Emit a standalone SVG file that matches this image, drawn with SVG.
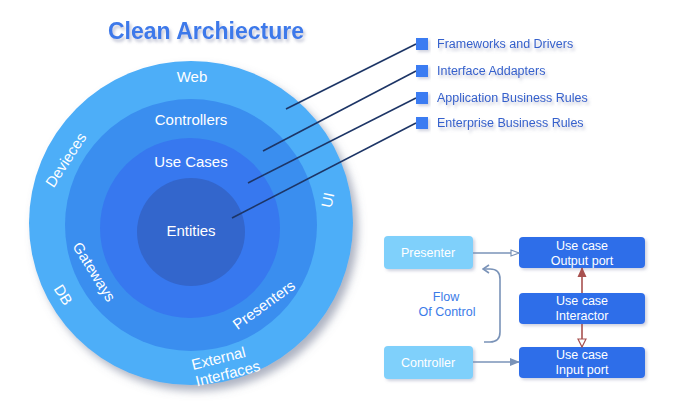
<svg xmlns="http://www.w3.org/2000/svg" width="676" height="410" viewBox="0 0 676 410">
<defs>
<filter id="cshadow" x="-20%" y="-20%" width="150%" height="150%">
<feGaussianBlur in="SourceAlpha" stdDeviation="4"/>
<feOffset dx="5" dy="6" result="b"/>
<feFlood flood-color="#6c7590" flood-opacity="0.55"/>
<feComposite in2="b" operator="in"/>
<feMerge><feMergeNode/><feMergeNode in="SourceGraphic"/></feMerge>
</filter>
<filter id="tshadow" x="-10%" y="-30%" width="130%" height="180%">
<feGaussianBlur in="SourceAlpha" stdDeviation="1.8"/>
<feOffset dx="2" dy="3" result="b"/>
<feFlood flood-color="#8a90b0" flood-opacity="0.5"/>
<feComposite in2="b" operator="in"/>
<feMerge><feMergeNode/><feMergeNode in="SourceGraphic"/></feMerge>
</filter>
<filter id="bshadow" x="-20%" y="-30%" width="140%" height="180%">
<feGaussianBlur in="SourceAlpha" stdDeviation="1.5"/>
<feOffset dx="1.5" dy="2" result="b"/>
<feFlood flood-color="#8a90b0" flood-opacity="0.4"/>
<feComposite in2="b" operator="in"/>
<feMerge><feMergeNode/><feMergeNode in="SourceGraphic"/></feMerge>
</filter>
<marker id="hollow" markerWidth="10" markerHeight="8" refX="9" refY="4" orient="auto" markerUnits="userSpaceOnUse">
<path d="M1,1 L9,4 L1,7 Z" fill="#ffffff" stroke="#7a93b8" stroke-width="1.2"/>
</marker>
<marker id="filled" markerWidth="10" markerHeight="8" refX="9" refY="4" orient="auto" markerUnits="userSpaceOnUse">
<path d="M0,0 L10,4 L0,8 Z" fill="#7a93b8"/>
</marker>
<marker id="chev" markerWidth="10" markerHeight="10" refX="9" refY="5" orient="auto" markerUnits="userSpaceOnUse">
<path d="M3,1 L9,5 L3,9" fill="none" stroke="#7a93b8" stroke-width="1.6"/>
</marker>
<marker id="redfilled" markerWidth="10" markerHeight="10" refX="9" refY="5" orient="auto" markerUnits="userSpaceOnUse">
<path d="M0,0.5 L10,5 L0,9.5 Z" fill="#a8514f"/>
</marker>
<marker id="redhollow" markerWidth="10" markerHeight="10" refX="9" refY="5" orient="auto" markerUnits="userSpaceOnUse">
<path d="M1,1 L9,5 L1,9 Z" fill="#ffffff" stroke="#a8514f" stroke-width="1.2"/>
</marker>
</defs>
<style>
.w{font-family:"Liberation Sans",Arial,sans-serif;fill:#ffffff;font-size:15px;text-anchor:middle}
.leg{font-family:"Liberation Sans",Arial,sans-serif;fill:#3461cc;font-size:12.5px}
.sq{fill:#3b7cf2}
.lead{stroke:#1d3566;stroke-width:1.6;fill:none}
.bx{font-family:"Liberation Sans",Arial,sans-serif;fill:#ffffff;font-size:12.5px;text-anchor:middle}
.light{fill:#7fd0fb}
.dark{fill:#2f6ee9}
.conn{stroke:#7a93b8;stroke-width:1.6;fill:none}
.red{stroke:#a8514f;stroke-width:1.6;fill:none}
</style>

<text x="206" y="39" font-family="Liberation Sans,Arial,sans-serif" font-weight="bold" font-size="23" fill="#3c79ea" text-anchor="middle" filter="url(#tshadow)">Clean Archiecture</text>

<g id="circles">
<circle id="ring-frameworks" cx="191" cy="223" r="162" fill="#4daef8" filter="url(#cshadow)"/>
<circle id="ring-adapters" cx="191" cy="225" r="126" fill="#3a8eef"/>
<circle id="ring-usecases" cx="190" cy="228" r="90" fill="#3778ef"/>
<circle id="ring-entities" cx="191" cy="232" r="54" fill="#3366cc"/>
</g>

<g id="circle-labels">
<text class="w" x="192" y="82">Web</text>
<text class="w" x="191" y="125">Controllers</text>
<text class="w" x="191" y="167">Use Cases</text>
<text class="w" x="191" y="236">Entities</text>
<text class="w" transform="translate(66,160) rotate(-57)" dy="5">Devieces</text>
<text class="w" transform="translate(94,272) rotate(58)" dy="5">Gateways</text>
<text class="w" transform="translate(63,295) rotate(58)" dy="5">DB</text>
<text class="w" transform="translate(328,200) rotate(-78)" dy="5">UI</text>
<text class="w" transform="translate(264,305) rotate(-36)" dy="5">Presenters</text>
<g transform="translate(193,370) rotate(-14)">
<text class="w" x="0" y="0" style="text-anchor:start">External</text>
<text class="w" x="0" y="17" style="text-anchor:start">Interfaces</text>
</g>
</g>

<g id="leaders">
<line class="lead" x1="416" y1="44" x2="286" y2="109"/>
<line class="lead" x1="416" y1="71" x2="263" y2="151"/>
<line class="lead" x1="416" y1="98" x2="248" y2="183"/>
<line class="lead" x1="416" y1="123" x2="232" y2="218"/>
</g>

<g id="legend-frameworks"><rect class="sq" x="416" y="38" width="12" height="12" filter="url(#bshadow)"/><text class="leg" x="437" y="48" filter="url(#tshadow)">Frameworks and Drivers</text></g>
<g id="legend-adapters"><rect class="sq" x="416" y="65" width="12" height="12" filter="url(#bshadow)"/><text class="leg" x="437" y="75" filter="url(#tshadow)">Interface Addapters</text></g>
<g id="legend-application"><rect class="sq" x="416" y="92" width="12" height="12" filter="url(#bshadow)"/><text class="leg" x="437" y="102" filter="url(#tshadow)">Application Business Rules</text></g>
<g id="legend-enterprise"><rect class="sq" x="416" y="117" width="12" height="12" filter="url(#bshadow)"/><text class="leg" x="437" y="127" filter="url(#tshadow)">Enterprise Business Rules</text></g>

<g id="presenter"><rect class="light" x="384" y="236" width="89" height="33" rx="4" filter="url(#bshadow)"/><text class="bx" x="428" y="257">Presenter</text></g>
<g id="controller"><rect class="light" x="384" y="346" width="89" height="33" rx="4" filter="url(#bshadow)"/><text class="bx" x="428" y="367">Controller</text></g>
<g id="output-port"><rect class="dark" x="519" y="237" width="126" height="31" rx="4" filter="url(#bshadow)"/><text class="bx" x="582" y="250">Use case</text><text class="bx" x="582" y="265">Output port</text></g>
<g id="interactor"><rect class="dark" x="519" y="293" width="126" height="31" rx="4" filter="url(#bshadow)"/><text class="bx" x="582" y="305">Use case</text><text class="bx" x="582" y="320">Interactor</text></g>
<g id="input-port"><rect class="dark" x="519" y="347" width="126" height="31" rx="4" filter="url(#bshadow)"/><text class="bx" x="582" y="359">Use case</text><text class="bx" x="582" y="374">Input port</text></g>

<g id="connectors">
<line class="conn" x1="473" y1="253" x2="519" y2="253" marker-end="url(#hollow)"/>
<line class="conn" x1="473" y1="362" x2="519" y2="362" marker-end="url(#filled)"/>
<path class="conn" d="M484 342 H490 Q500 342 500 332 V279 Q500 269 490 269 H483" marker-end="url(#chev)"/>
<line class="red" x1="582" y1="293" x2="582" y2="268" marker-end="url(#redfilled)"/>
<line class="red" x1="582" y1="324" x2="582" y2="347" marker-end="url(#redhollow)"/>
</g>
<text x="446" y="301" font-family="Liberation Sans,Arial,sans-serif" font-size="12.5" fill="#3b7be8" text-anchor="middle">Flow</text>
<text x="447" y="316" font-family="Liberation Sans,Arial,sans-serif" font-size="12.5" fill="#3b7be8" text-anchor="middle">Of Control</text>
</svg>
